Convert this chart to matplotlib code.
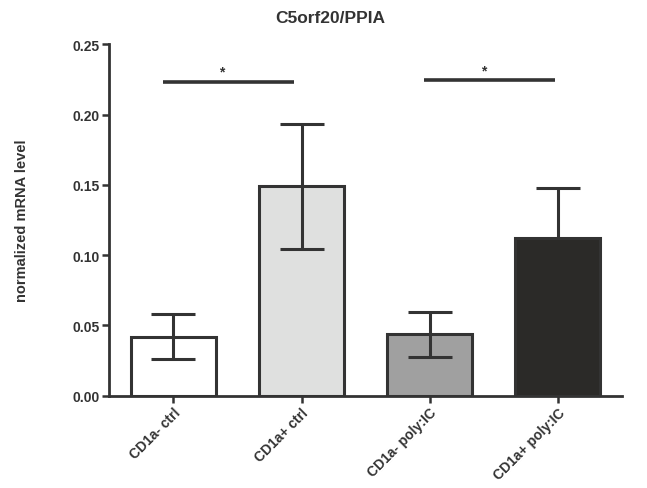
import matplotlib

matplotlib.use("Agg")
import matplotlib.pyplot as plt

plt.rcParams["font.family"] = ["Liberation Sans", "DejaVu Sans"]

groups = ["CD1a- ctrl", "CD1a+ ctrl", "CD1a- poly:IC", "CD1a+ poly:IC"]
means = [0.042, 0.149, 0.0435, 0.112]
errors = [0.016, 0.0447, 0.0163, 0.036]
colors = ["#ffffff", "#dfe0df", "#a0a0a0", "#2b2a28"]
yticks = [0.00, 0.05, 0.10, 0.15, 0.20, 0.25]

# significance brackets: (x start, x end, height)
sig_pairs = [(-0.08, 0.94, 0.2236), (1.96, 2.98, 0.2248)]

ink = "#333333"

fig = plt.figure(figsize=(6.47, 4.89), dpi=100)
ax = fig.add_axes([0.169, 0.189, 0.792, 0.718])

x = list(range(len(groups)))
ax.bar(x, means, width=0.667, color=colors, edgecolor=ink, linewidth=2.2, zorder=2)
for xi, m, e, c in zip(x, means, errors, colors):
    # whisker drawn behind dark bars, so the lower half vanishes into the fill
    z = 1 if c == "#2b2a28" else 3
    ax.errorbar([xi], [m], yerr=[e], fmt="none", ecolor=ink, elinewidth=2.2,
                capsize=16, capthick=2.2, zorder=z)

for x0, x1, h in sig_pairs:
    ax.plot([x0, x1], [h, h], color=ink, linewidth=2.6, solid_capstyle="butt",
            clip_on=False)
    ax.text((x0 + x1) / 2 - 0.05, h + 0.002, "*", ha="center", va="bottom",
            fontsize=10, fontweight="bold", color=ink)

ax.set_xlim(-0.5, 3.5)
ax.set_ylim(0, 0.25)
ax.set_yticks(yticks)
ax.set_yticklabels([f"{t:.2f}" for t in yticks], fontsize=10, fontweight="bold",
                   color=ink)
ax.set_xticks(x)
ax.set_xticklabels(groups, rotation=45, ha="right", rotation_mode="anchor",
                   fontsize=10, fontweight="bold", color=ink)

for side in ("top", "right"):
    ax.spines[side].set_visible(False)
for side in ("left", "bottom"):
    ax.spines[side].set_linewidth(2)
    ax.spines[side].set_color(ink)
ax.tick_params(axis="both", direction="out", length=5, width=1.8, color=ink, pad=2)

fig.text(0.034, 0.548, "normalized mRNA level", rotation=90, ha="center",
         va="center", fontsize=10.5, fontweight="bold", color=ink)
fig.text(0.51, 0.963, "C5orf20/PPIA", ha="center", va="center", fontsize=12.5,
         fontweight="bold", color=ink)

fig.savefig("out.png", dpi=100)
